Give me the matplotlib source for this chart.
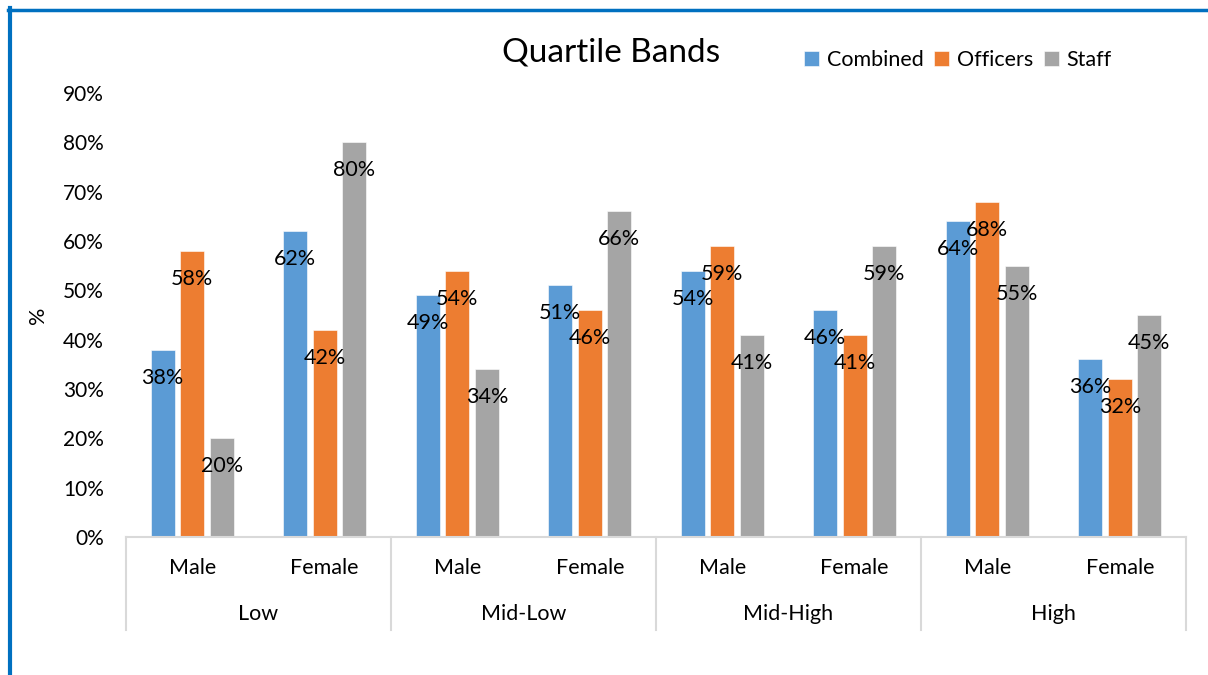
import matplotlib
matplotlib.use("Agg")
import matplotlib.pyplot as plt
from matplotlib.lines import Line2D
from matplotlib.transforms import blended_transform_factory
import numpy as np

plt.rcParams['font.family'] = ['Lato', 'DejaVu Sans']

# Pay quartile bands, split by gender, for three staff populations
bands = ["Low", "Mid-Low", "Mid-High", "High"]
genders = ["Male", "Female"]
series = ["Combined", "Officers", "Staff"]
combined = [38, 62, 49, 51, 54, 46, 64, 36]
officers = [58, 42, 54, 46, 59, 41, 68, 32]
staff = [20, 80, 34, 66, 41, 59, 55, 45]
yticks = [0, 10, 20, 30, 40, 50, 60, 70, 80, 90]

colors = ["#5B9BD5", "#ED7D31", "#A5A5A5"]
W, H = 1208, 675
fig = plt.figure(figsize=(W / 100, H / 100), dpi=100)
ax = fig.add_axes([126 / W, 1 - 537 / H, (1186 - 126) / W, (537 - 93) / H])

n = len(bands) * len(genders)
centers = np.arange(n) + 0.5
offsets = [-0.223, 0.0, 0.223]
width = 0.182
label_size = 15.5

for vals, off, col, name in zip([combined, officers, staff], offsets, colors, series):
    bars = ax.bar(centers + off, vals, width=width, color=col,
                  edgecolor="white", linewidth=0.4, label=name)
    for b, v in zip(bars, vals):
        ax.annotate(f"{v}%", (b.get_x() + b.get_width() / 2, v),
                    xytext=(0, -28), textcoords="offset pixels",
                    ha="center", va="center", fontsize=label_size, color="black")

ax.set_xlim(0, n)
ax.set_ylim(0, 90)
ax.set_yticks(yticks)
ax.set_yticklabels([f"{t}%" for t in yticks], fontsize=15)
ax.tick_params(axis="y", length=0, pad=16)
ax.set_xticks([])
for s in ["top", "right", "left"]:
    ax.spines[s].set_visible(False)
ax.spines["bottom"].set_color("#D9D9D9")
ax.spines["bottom"].set_linewidth(1.5)

# two-level category axis
tr = blended_transform_factory(ax.transData, ax.transAxes)
for g in range(len(bands) + 1):
    ax.plot([2 * g, 2 * g], [0, -0.2095], transform=tr, color="#D9D9D9",
            lw=1.5, clip_on=False)
for i in range(n):
    ax.text(centers[i], -0.070, genders[i % 2], transform=tr, ha="center",
            va="center", fontsize=label_size)
for g, name in enumerate(bands):
    ax.text(2 * g + 1, -0.173, name, transform=tr, ha="center", va="center",
            fontsize=label_size)

fig.text(38 / W, 1 - 315 / H, "%", rotation=90, ha="center", va="center",
         fontsize=label_size)
fig.text(611 / W, 1 - 52 / H, "Quartile Bands", ha="center", va="center",
         fontsize=24)

ax.legend(loc="center left", bbox_to_anchor=(804 / W, 1 - 60 / H),
          bbox_transform=fig.transFigure, ncol=3, frameon=False,
          fontsize=label_size, handlelength=0.7, handleheight=0.7,
          handletextpad=0.35, columnspacing=0.5, borderaxespad=0,
          borderpad=0)

# frame accents
fig.add_artist(Line2D([10 / W, 10 / W], [0, 1 - 8 / H], color="#0070C0",
                      lw=3, transform=fig.transFigure))
fig.add_artist(Line2D([8 / W, 1], [1 - 9.5 / H, 1 - 9.5 / H], color="#0070C0",
                      lw=2.5, transform=fig.transFigure))

fig.savefig("out.png", dpi=100, facecolor="white")
